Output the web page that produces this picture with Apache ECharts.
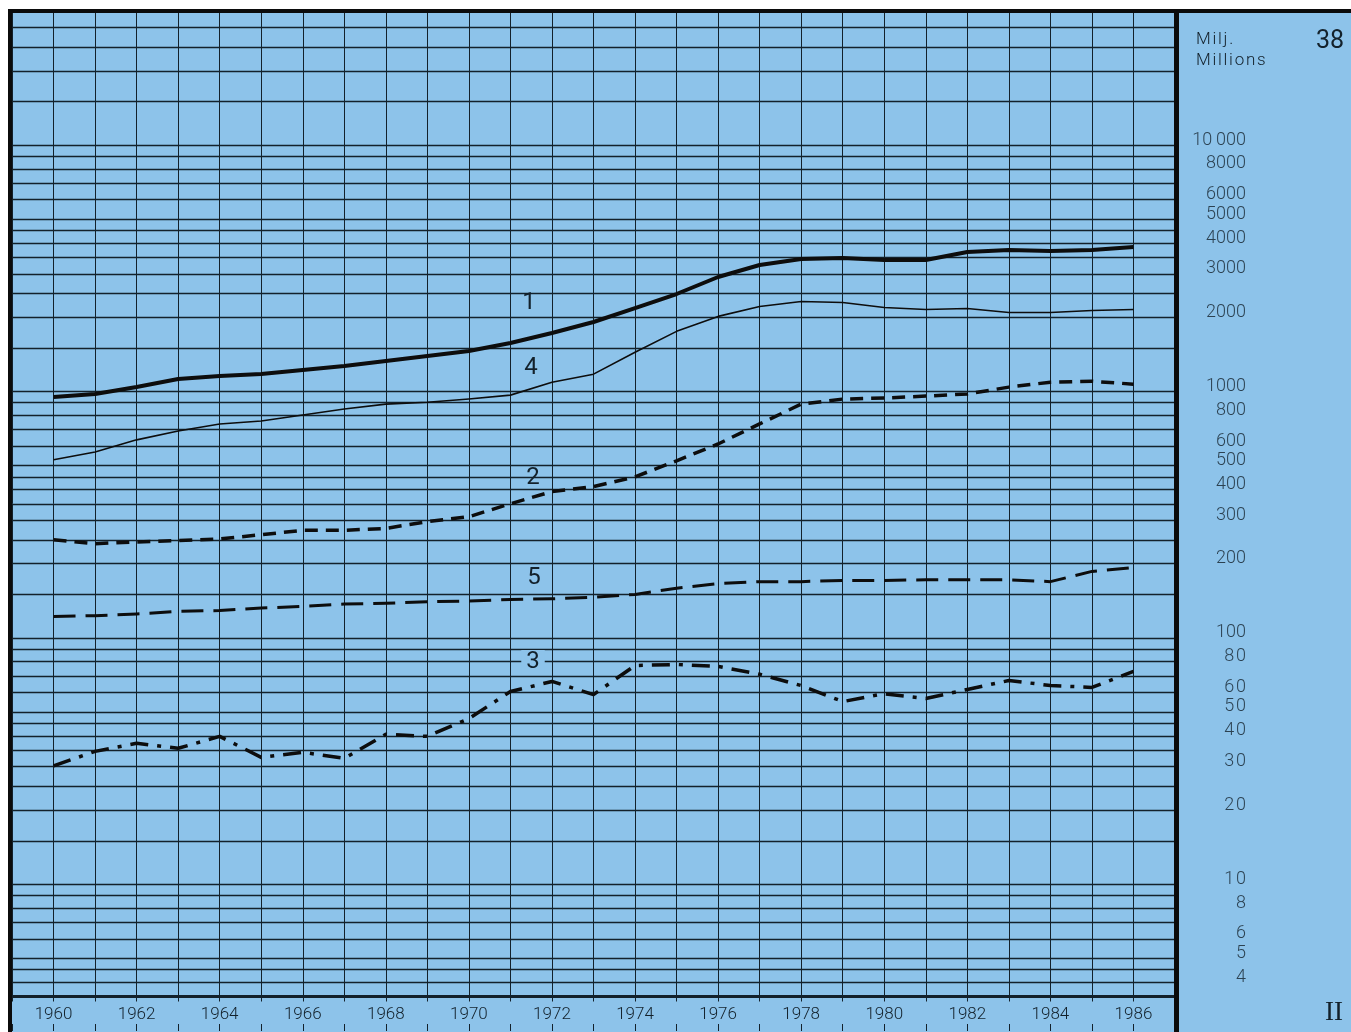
<!DOCTYPE html>
<html><head><meta charset="utf-8">
<script src="https://cdn.jsdelivr.net/npm/echarts@6/dist/echarts.min.js"></script>
<style>html,body{margin:0;padding:0;background:#fff}#c{width:1351px;height:1032px}</style>
</head><body><div id="c"></div>
<script>
// ---- data ----
const years = [1960,1961,1962,1963,1964,1965,1966,1967,1968,1969,1970,1971,1972,1973,1974,1975,1976,1977,1978,1979,1980,1981,1982,1983,1984,1985,1986];
const series1 = [949,976,1042,1123,1155,1177,1222,1268,1329,1392,1459,1572,1726,1913,2180,2485,2913,3258,3446,3478,3414,3414,3679,3749,3714,3749,3855];
const series4 = [528,568,636,691,738,758,802,848,888,904,931,966,1090,1175,1442,1753,2016,2213,2318,2295,2192,2150,2170,2090,2090,2130,2150];
const series2 = [250,241,245,248,252,262,273,273,278,296,310,350,392,411,450,523,612,738,888,931,940,957,977,1041,1090,1100,1070];
const series5 = [122,123,125,128,129,132,134,137,138,140,141,143,144,146,150,159,166,169,169,171,171,172,172,172,169,186,193];
const series3 = [30.2,34.6,37.3,35.6,39.8,32.7,34.3,32.4,40.6,39.8,47.0,60.5,66.5,58.8,77.2,77.9,76.5,71.1,64.0,55.1,59.3,56.7,61.7,67.1,64.0,62.9,73.0];
const labelValues = [10000,8000,6000,5000,4000,3000,2000,1000,800,600,500,400,300,200,100,80,60,50,40,30,20,10,8,6,5,4];
const gridMultipliers = [1,1.5,2,2.5,3,3.5,4,4.5,5,6,7,8,9];
const decades = [1,10,100,1000,10000];
const yMin = 3.5, yMax = 35000;

// ---- build ----
const gridValues = [];
decades.forEach(d => gridMultipliers.forEach(m => { const v = m * d; if (v > yMin && v < yMax) gridValues.push(v); }));
const pairs = arr => years.map((y, i) => [y, arr[i]]);
const spaced = s => s.split('').join('\u200A');
const BLUE = '#8dc3ea';
const INK = '#13212b';
const FONT = 'Roboto';

const chart = echarts.init(document.getElementById('c'));
const lineSeries = (name, arr, width, type) => ({
  name, type: 'line', xAxisIndex: 0, yAxisIndex: 0, data: pairs(arr),
  symbol: 'none', smooth: false, z: 3, silent: true,
  lineStyle: { color: '#0d0d0d', width, type, cap: 'butt', join: 'round' }
});
const txt = (text, x, y, size, extra) => ({
  type: 'text', x, y, z: 50, silent: true,
  style: Object.assign({ text, fill: INK, font: `400 ${size}px ${FONT}`, textAlign: 'center', textVerticalAlign: 'middle' }, extra || {})
});

chart.setOption({
  backgroundColor: BLUE,
  animation: false,
  grid: [
    { left: 12, right: 176, top: 11, bottom: 35.5, show: false },
    { left: 1180, width: 66, top: 11, bottom: 35.5, show: false }
  ],
  xAxis: [
    { gridIndex: 0, type: 'value', min: 1959, max: 1987, interval: 1,
      axisLine: { show: true, onZero: false, lineStyle: { color: INK, width: 3 } },
      axisTick: { show: true, length: 5, lineStyle: { color: INK, width: 1 } },
      axisLabel: { show: true, margin: 10, color: INK, fontFamily: FONT, fontWeight: 300, fontSize: 17,
        formatter: v => (v % 2 === 0 && v >= 1960 && v <= 1986) ? String(v) : '' },
      splitLine: { show: true, lineStyle: { color: INK, width: 1 } } },
    { gridIndex: 0, type: 'value', min: 1959, max: 1987, interval: 1, position: 'bottom', offset: 34.5,
      axisLine: { show: false }, axisTick: { show: true, inside: true, length: 7, lineStyle: { color: INK, width: 1 } },
      axisLabel: { show: false }, splitLine: { show: false } },
    { gridIndex: 1, type: 'value', min: 0, max: 1, show: false }
  ],
  yAxis: [
    { gridIndex: 0, type: 'log', logBase: 10, min: yMin, max: yMax,
      axisLine: { show: false }, axisTick: { show: false }, axisLabel: { show: false }, splitLine: { show: false } },
    { gridIndex: 1, type: 'log', logBase: 10, min: yMin, max: yMax, show: false }
  ],
  series: [
    { type: 'line', xAxisIndex: 0, yAxisIndex: 0, data: [[1959, 10]], symbol: 'none', silent: true,
      lineStyle: { opacity: 0 }, z: 1,
      markLine: { silent: true, z: 1, symbol: ['none', 'none'], label: { show: false },
        lineStyle: { color: INK, width: 1.3, type: 'solid' },
        data: gridValues.map(v => ({ yAxis: v })) } },
    lineSeries('1', series1, 4, 'solid'),
    lineSeries('4', series4, 1.6, 'solid'),
    lineSeries('2', series2, 3.5, [13, 8]),
    lineSeries('5', series5, 3, [22, 10]),
    lineSeries('3', series3, 3.5, [18, 9, 4, 9]),
    { type: 'scatter', xAxisIndex: 2, yAxisIndex: 1, data: labelValues.map(v => [1, v]),
      symbolSize: 0.1, itemStyle: { color: 'rgba(0,0,0,0)' }, silent: true,
      label: { show: true, position: 'left', distance: 0, offset: [0, -5], color: INK,
        fontFamily: FONT, fontWeight: 300, fontSize: 18,
        formatter: p => p.value[1] >= 10000 ? '10\u2009000' : (p.value[1] < 100 && p.value[1] >= 10 ? spaced(String(p.value[1])) : String(p.value[1])) } }
  ],
  graphic: [
    { type: 'rect', z: 40, silent: true, shape: { x: 0, y: 0, width: 1351, height: 9 }, style: { fill: '#fff' } },
    { type: 'rect', z: 40, silent: true, shape: { x: 0, y: 0, width: 8, height: 1032 }, style: { fill: '#fff' } },
    { type: 'rect', z: 41, silent: true, shape: { x: 8, y: 9, width: 1343, height: 4 }, style: { fill: '#0b0b0b' } },
    { type: 'rect', z: 41, silent: true, shape: { x: 8, y: 9, width: 4, height: 1023 }, style: { fill: '#0b0b0b' } },
    { type: 'rect', z: 41, silent: true, shape: { x: 1174, y: 9, width: 5, height: 1023 }, style: { fill: '#0b0b0b' } },
    txt(spaced('Milj.'), 1196, 40, 17, { textAlign: 'left', font: `300 17px ${FONT}` }),
    txt(spaced('Millions'), 1196, 61, 17, { textAlign: 'left', font: `300 17px ${FONT}` }),
    txt('38', 1330, 42, 25),
    txt('II', 1334, 1013, 27, { font: `400 27px "Liberation Serif"` }),
    txt('1', 529, 303, 24),
    txt('4', 531, 368, 24),
    txt('2', 533, 478, 24),
    txt('5', 534, 578, 24),
    txt('3', 533, 662, 24, { backgroundColor: BLUE, padding: [0, 5] })
  ]
});
</script></body></html>
